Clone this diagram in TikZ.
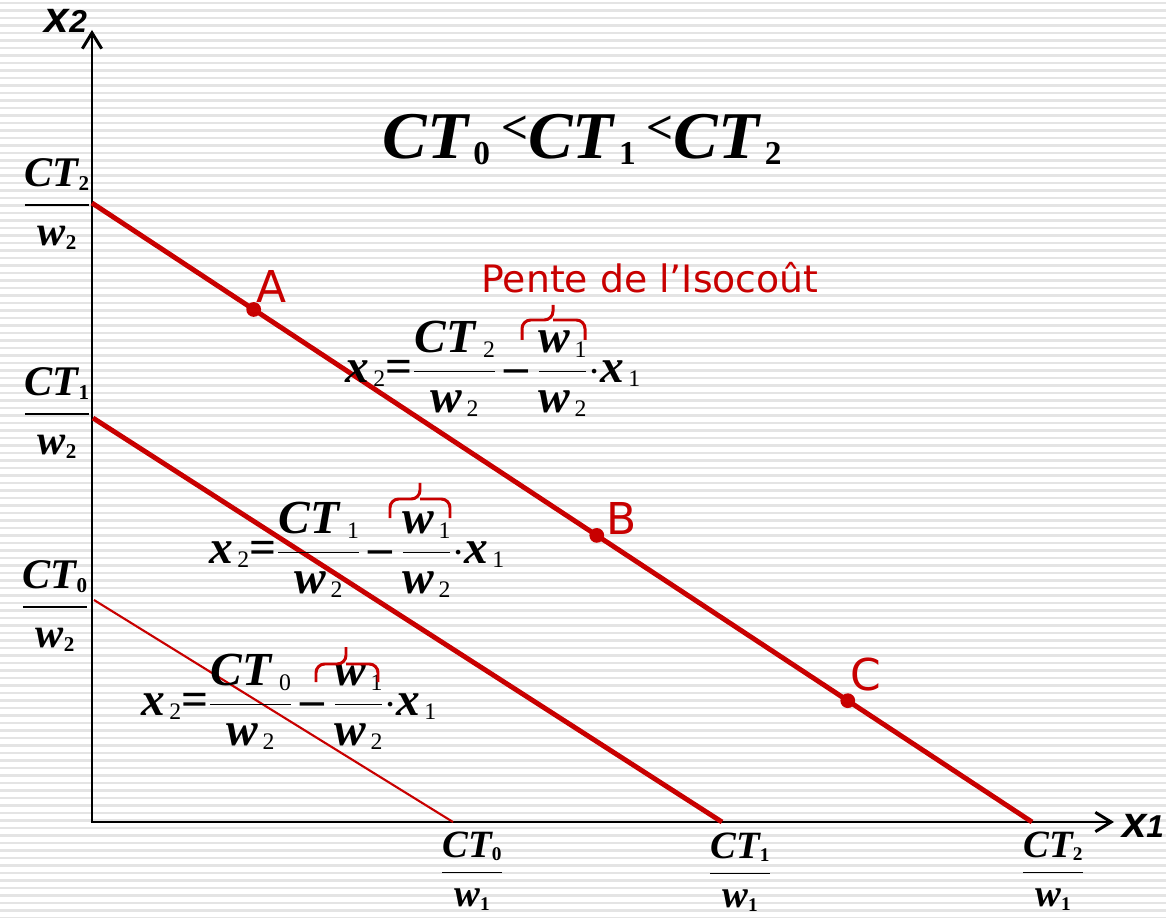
\documentclass[tikz,border=0pt]{standalone}
\usepackage{amsmath}
\usepackage{graphicx}
\usepackage{fontspec}
\setmainfont{Liberation Serif}
\newfontfamily\pentefont{DejaVu Sans}
\newfontfamily\axisfont{Liberation Sans}
\usetikzlibrary{arrows.meta}
\definecolor{isored}{RGB}{200,0,0}
\definecolor{stripegray}{RGB}{228,228,228}
% bold italic letter with a small upright subscript
\newcommand{\bv}[2]{\mbox{\bfseries\itshape #1\raisebox{-0.2ex}{\upshape\scalebox{0.5}{#2}}}}
% same, with a regular subscript (used in the equations)
\newcommand{\bvr}[2]{\mbox{\bfseries\itshape #1\raisebox{-0.2ex}{\mdseries\upshape\scalebox{0.5}{#2}}}}
\begin{document}
\begin{tikzpicture}[x=0.02cm, y=-0.02cm,
    stripe/.style={stripegray, line width=1.4pt},
    axisline/.style={line width=1.7pt, {Straight Barb[length=9pt,width=11pt]}-{Straight Barb[length=9pt,width=11pt]}},
    isoline/.style={isored, line width=2.8pt},
    thinline/.style={isored, line width=1.2pt},
    axislabel/.style={font=\axisfont\bfseries\itshape, inner sep=0pt},
    ticklabel/.style={font=\fontsize{24}{27}\selectfont, inner sep=0pt},
    eqlabel/.style={font=\fontsize{27}{30}\selectfont, inner sep=0pt},
    pointlabel/.style={isored, font=\pentefont\fontsize{25}{28}\selectfont, inner sep=0pt},
    slopebrace/.style={isored, line width=1.7pt, rounded corners=5pt}]
    \useasboundingbox (0,0) rectangle (1166,918);
    % striped background
    \fill[white] (0,0) rectangle (1166,918);
    \foreach \k in {0,...,122}
        \draw[stripe] (0,3+7.5*\k) -- (1166,3+7.5*\k);

    % axes
    \coordinate (origin) at (92,822);
    \coordinate (ytop) at (92,30);
    \coordinate (xend) at (1114,822);
    \draw[axisline] (ytop) -- (origin) -- (xend);
    \node[axislabel, anchor=base] (xtwolab) at (66,33)
        {{\fontsize{25}{25}\selectfont x}{\fontsize{18}{18}\selectfont\itshape 2}};
    \node[axislabel, anchor=base] (xonelab) at (1143,837)
        {{\fontsize{25}{25}\selectfont x}{\fontsize{18}{18}\selectfont\itshape 1}};

    % isocost lines
    \coordinate (ytwo) at (92,203);
    \coordinate (xtwo) at (1032,822);
    \coordinate (yone) at (93,418);
    \coordinate (xone) at (722,822);
    \coordinate (yzero) at (94,600);
    \coordinate (xzero) at (453,822);
    \draw[isoline] (ytwo) -- (xtwo);
    \draw[isoline] (yone) -- (xone);
    \draw[thinline] (yzero) -- (xzero);

    % points on the highest isocost
    \path (ytwo) -- (xtwo)
        coordinate[pos=0.172] (ptA)
        coordinate[pos=0.537] (ptB)
        coordinate[pos=0.804] (ptC);
    \fill[isored] (ptA) circle (4.2pt);
    \fill[isored] (ptB) circle (4.2pt);
    \fill[isored] (ptC) circle (4.2pt);
    \node[pointlabel] (labA) at (272,286) {A};
    \node[pointlabel] (labB) at (622,518) {B};
    \node[pointlabel] (labC) at (866,675) {C};

    % title
    \node[inner sep=0pt, font=\fontsize{38}{42}\selectfont] (title) at (582,140)
        {\bv{CT}{\,0}\,\raisebox{0.5ex}{\fontsize{27}{27}\selectfont\textbf{<}}\bv{CT}{\,1}\,\raisebox{0.5ex}{\fontsize{27}{27}\selectfont\textbf{<}}\bv{CT}{\,2}};

    % intercepts on the axes
    \node[ticklabel] (ytwolab) at (57,204) {$\dfrac{\bv{CT}{2}}{\bv{w}{2}}$};
    \node[ticklabel] (yonelab) at (57,413) {$\dfrac{\bv{CT}{1}}{\bv{w}{2}}$};
    \node[ticklabel] (yzerolab) at (55,606) {$\dfrac{\bv{CT}{0}}{\bv{w}{2}}$};
    \node[ticklabel, font=\fontsize{22}{25}\selectfont] (xzerolab) at (472,871) {$\dfrac{\bv{CT}{0}}{\bv{w}{1}}$};
    \node[ticklabel, font=\fontsize{22}{25}\selectfont] (xonelab2) at (740,872) {$\dfrac{\bv{CT}{1}}{\bv{w}{1}}$};
    \node[ticklabel, font=\fontsize{22}{25}\selectfont] (xtwolab2) at (1053,871) {$\dfrac{\bv{CT}{2}}{\bv{w}{1}}$};

    % equations of the isocosts
    \node[eqlabel] (eqtwo) at (493,369)
        {\bvr{x}{\,2}\textbf{=}$\dfrac{\bvr{CT}{\,\,2}}{\bvr{w}{\,2}}$\,\textbf{--}\,$\dfrac{\bvr{w}{\,1}}{\bvr{w}{\,2}}$\textbf{$\cdot$}\bvr{x}{\,1}};
    \node[eqlabel] (eqone) at (357,550)
        {\bvr{x}{\,2}\textbf{=}$\dfrac{\bvr{CT}{\,\,1}}{\bvr{w}{\,2}}$\,\textbf{--}\,$\dfrac{\bvr{w}{\,1}}{\bvr{w}{\,2}}$\textbf{$\cdot$}\bvr{x}{\,1}};
    \node[eqlabel] (eqzero) at (289,702)
        {\bvr{x}{\,2}\textbf{=}$\dfrac{\bvr{CT}{\,\,0}}{\bvr{w}{\,2}}$\,\textbf{--}\,$\dfrac{\bvr{w}{\,1}}{\bvr{w}{\,2}}$\textbf{$\cdot$}\bvr{x}{\,1}};

    % slope braces
    \draw[slopebrace] (522,340) |- (553,320) -- (553,305);
    \draw[slopebrace] (585,340) |- (553,320);
    \draw[slopebrace] (390,518) |- (420,499) -- (420,483);
    \draw[slopebrace] (450,518) |- (420,499);
    \draw[slopebrace] (316,682) |- (346,664) -- (346,647);
    \draw[slopebrace] (378,682) |- (346,664);
    \node[isored, font=\pentefont\fontsize{21.5}{24}\selectfont, inner sep=0pt] (pente) at (650,278)
        {Pente de l’Isocoût};
\end{tikzpicture}
\end{document}
